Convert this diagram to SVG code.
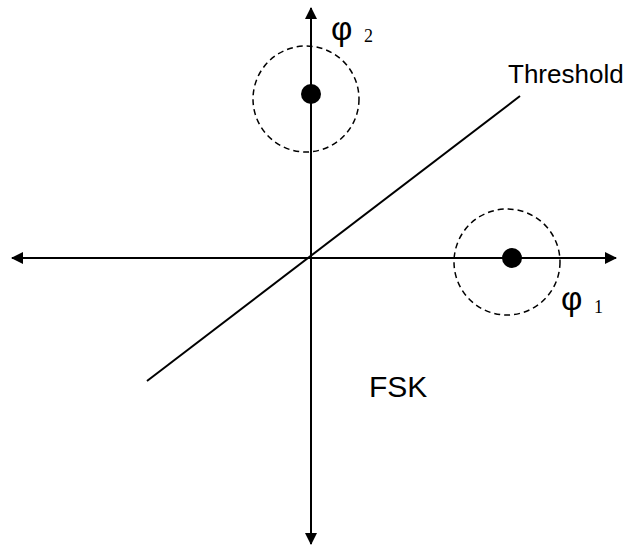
<svg xmlns="http://www.w3.org/2000/svg" width="626" height="547" viewBox="0 0 626 547">
  <style>
    .axis { stroke: #000; stroke-width: 2; fill: none; }
    .ring { stroke: #000; stroke-width: 1.5; fill: none; stroke-dasharray: 6 4; }
    .dot { fill: #000; }
    .sans { font-family: "Liberation Sans", Arial, sans-serif; fill: #000; }
    .serif { font-family: "Liberation Serif", "Times New Roman", serif; fill: #000; }
    .phi { font-family: "Liberation Sans", Arial, sans-serif; fill: #000; }
  </style>
  <defs>
    <marker id="arr" viewBox="0 0 12 12" refX="11" refY="6" markerWidth="12" markerHeight="12" markerUnits="userSpaceOnUse" orient="auto">
      <path d="M0,0 L12,6 L0,12 Z" fill="#000"/>
    </marker>
  </defs>
  <g id="connectors">
    <line class="axis" x1="311" y1="258" x2="311" y2="8" marker-end="url(#arr)"/>
    <line class="axis" x1="311" y1="258" x2="311" y2="544" marker-end="url(#arr)"/>
    <line class="axis" x1="311" y1="258" x2="12" y2="258" marker-end="url(#arr)"/>
    <line class="axis" x1="311" y1="258" x2="616" y2="258" marker-end="url(#arr)"/>
    <line class="axis" x1="147" y1="381" x2="520" y2="96"/>
  </g>
  <g id="s2">
    <circle class="ring" cx="306" cy="99" r="53"/>
    <circle class="dot" cx="311" cy="94" r="10"/>
  </g>
  <g id="s1">
    <circle class="ring" cx="507" cy="262" r="53"/>
    <circle class="dot" cx="512" cy="258" r="10"/>
  </g>
  <g id="labels">
    <text class="phi" x="331" y="40" font-size="33">φ</text>
    <text class="serif" x="364" y="42" font-size="18">2</text>
    <text class="phi" x="561" y="310" font-size="33">φ</text>
    <text class="serif" x="594" y="313" font-size="18">1</text>
    <text class="sans" x="508" y="83" font-size="26">Threshold</text>
    <text class="sans" x="369" y="397" font-size="30">FSK</text>
  </g>
</svg>
